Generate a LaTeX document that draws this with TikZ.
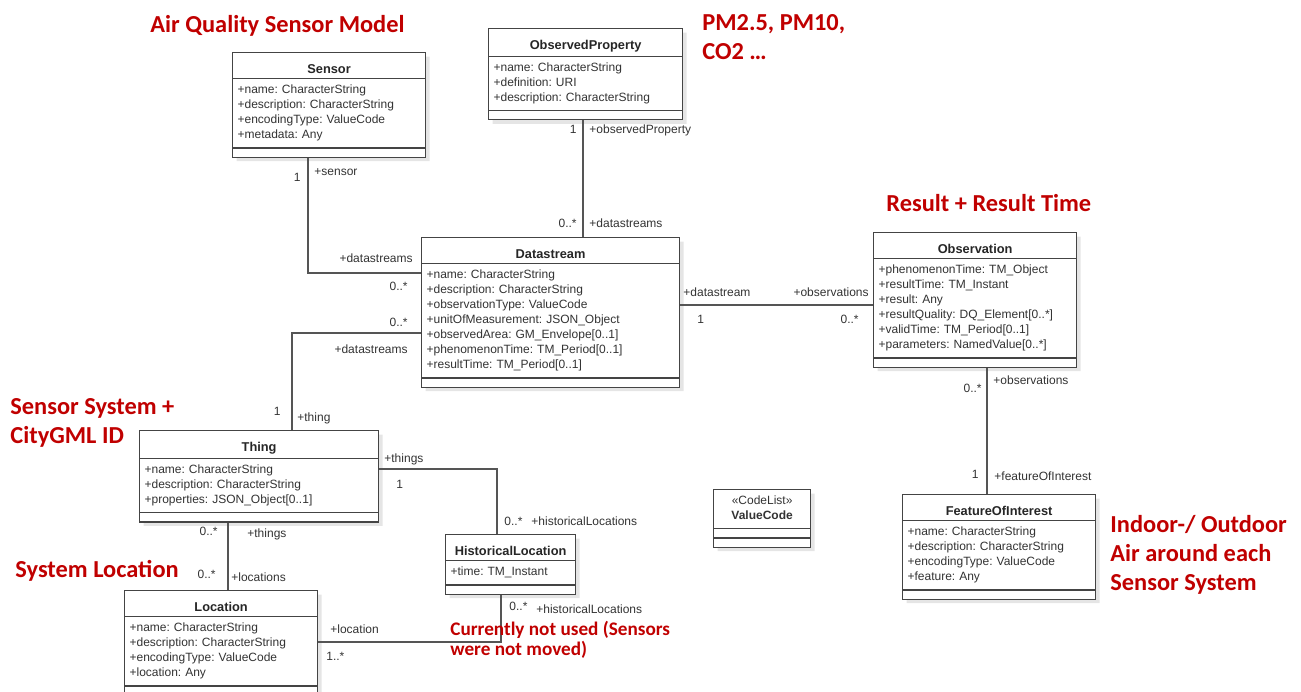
\documentclass[tikz,border=0pt]{standalone}
\usepackage{fontspec}
\setmainfont{Liberation Sans}
\newfontfamily\notefont{Carlito}
\usetikzlibrary{shapes.multipart,shadows}

\definecolor{notered}{HTML}{C00000}
\definecolor{umlline}{HTML}{555555}
\definecolor{umltext}{HTML}{333333}

% centred class name in the top compartment
\newcommand{\umlname}[1]{{\centering\rule[-0.5pt]{0pt}{8.5pt}\fontsize{6.4}{7.5}\selectfont\bfseries\color{black!85}#1\par}}

\begin{document}
\begin{tikzpicture}[x=0.5pt, y=-0.5pt,
umlclass/.style={rectangle split, rectangle split parts=3, draw=umlline!80!black, line width=0.6pt,
  fill=white, text width=#1, inner xsep=2.5pt, inner ysep=2pt, anchor=north west,
  font=\fontsize{6}{7.5}\selectfont\frenchspacing, text=umltext,
  drop shadow={shadow xshift=2pt, shadow yshift=-2pt, fill=black!10, opacity=1}},
assoc/.style={draw=umlline, line width=0.6pt},
role/.style={font=\fontsize{6}{7.5}\selectfont, text=umltext, inner sep=0pt, text height=4.3pt, text depth=1.2pt},
note/.style={font=\notefont\bfseries\fontsize{12.2}{14.5}\selectfont, text=notered, inner sep=0pt, align=left, anchor=base west}
]
\useasboundingbox (0,0) rectangle (1301,691);

% ---------- CLASSES ----------
\node[umlclass=91.5pt] (sensor) at (232,52) {\umlname{Sensor}
  \nodepart{two}\strut+name: CharacterString\\
  \strut+description: CharacterString\\
  \strut+encodingType: ValueCode\\
  \strut+metadata: Any
  \nodepart{three}};

\node[umlclass=92pt] (prop) at (488,28) {\umlname{ObservedProperty}
  \nodepart{two}\strut+name: CharacterString\\
  \strut+definition: URI\\
  \strut+description: CharacterString
  \nodepart{three}};

\node[umlclass=124pt] (ds) at (421,237) {\umlname{Datastream}
  \nodepart{two}\strut+name: CharacterString\\
  \strut+description: CharacterString\\
  \strut+observationType: ValueCode\\
  \strut+unitOfMeasurement: JSON\_Object\\
  \strut+observedArea: GM\_Envelope[0..1]\\
  \strut+phenomenonTime: TM\_Period[0..1]\\
  \strut+resultTime: TM\_Period[0..1]
  \nodepart{three}};

\node[umlclass=96.5pt] (obs) at (873,232) {\umlname{Observation}
  \nodepart{two}\strut+phenomenonTime: TM\_Object\\
  \strut+resultTime: TM\_Instant\\
  \strut+result: Any\\
  \strut+resultQuality: DQ\_Element[0..*]\\
  \strut+validTime: TM\_Period[0..1]\\
  \strut+parameters: NamedValue[0..*]
  \nodepart{three}};

\node[umlclass=91.5pt] (foi) at (902,494) {\umlname{FeatureOfInterest}
  \nodepart{two}\strut+name: CharacterString\\
  \strut+description: CharacterString\\
  \strut+encodingType: ValueCode\\
  \strut+feature: Any
  \nodepart{three}};

\node[umlclass=114.5pt] (thing) at (139,430) {\umlname{Thing}
  \nodepart{two}\strut+name: CharacterString\\
  \strut+description: CharacterString\\
  \strut+properties: JSON\_Object[0..1]
  \nodepart{three}};

\node[umlclass=60pt] (hist) at (445,534) {\umlname{HistoricalLocation}
  \nodepart{two}\strut+time: TM\_Instant
  \nodepart{three}};

\node[umlclass=91.5pt] (loc) at (124,590) {\umlname{Location}
  \nodepart{two}\strut+name: CharacterString\\
  \strut+description: CharacterString\\
  \strut+encodingType: ValueCode\\
  \strut+location: Any
  \nodepart{three}};

\node[umlclass=43.5pt] (valuecode) at (713,489) {{\centering\strut«CodeList»\\\strut\textbf{ValueCode}\par}
  \nodepart{two}\nodepart{three}};

% ---------- ASSOCIATIONS ----------
% Sensor - Datastream
\coordinate (sensorbend) at (308,273);
\draw[assoc] (sensor.south -| sensorbend) |- (ds.west |- sensorbend);
\node[role, anchor=east] (msensor) at (301,178) {1};
\node[role, anchor=west] (rsensor) at (314,172) {+sensor};
\node[role, anchor=east] (rsensords) at (413,259) {+datastreams};
\node[role, anchor=east] (msensords) at (408,287) {0..*};

% ObservedProperty - Datastream
\coordinate (propx) at (583,180);
\draw[assoc] (prop.south -| propx) -- (ds.north -| propx);
\node[role, anchor=east] (mprop) at (577,130) {1};
\node[role, anchor=west] (rprop) at (589,130) {+observedProperty};
\node[role, anchor=east] (mpropds) at (577,224) {0..*};
\node[role, anchor=west] (rpropds) at (589,224) {+datastreams};

% Datastream - Thing
\coordinate (thingbend) at (292,333);
\draw[assoc] (ds.west |- thingbend) -| (thing.north -| thingbend);
\node[role, anchor=east] (mthingds) at (408,323) {0..*};
\node[role, anchor=east] (rthingds) at (408,350) {+datastreams};
\node[role, anchor=east] (mthing) at (281,412) {1};
\node[role, anchor=west] (rthing) at (297,418) {+thing};

% Datastream - Observation
\coordinate (obsy) at (780,305);
\draw[assoc] (ds.east |- obsy) -- (obs.west |- obsy);
\node[role, anchor=west] (rds) at (683,293) {+datastream};
\node[role, anchor=west] (mds) at (697,320) {1};
\node[role, anchor=east] (robs) at (869,293) {+observations};
\node[role, anchor=east] (mobs) at (859,320) {0..*};

% Observation - FeatureOfInterest
\coordinate (foix) at (987,430);
\draw[assoc] (obs.south -| foix) -- (foi.north -| foix);
\node[role, anchor=east] (mobsfoi) at (982,389) {0..*};
\node[role, anchor=west] (robsfoi) at (993,381) {+observations};
\node[role, anchor=east] (mfoi) at (979,475) {1};
\node[role, anchor=west] (rfoi) at (994,477) {+featureOfInterest};

% Thing - HistoricalLocation
\coordinate (histbend) at (497,469);
\draw[assoc] (thing.east |- histbend) -| (hist.north -| histbend);
\node[role, anchor=west] (rthinghist) at (384,459) {+things};
\node[role, anchor=west] (mthinghist) at (396,485) {1};
\node[role, anchor=west] (mhist) at (504,522) {0..*};
\node[role, anchor=west] (rhist) at (531,522) {+historicalLocations};

% HistoricalLocation - Location
\coordinate (locbend) at (501,642);
\draw[assoc] (hist.south -| locbend) |- (loc.east |- locbend);
\node[role, anchor=west] (mhistloc) at (509,607) {0..*};
\node[role, anchor=west] (rhistloc) at (536,610) {+historicalLocations};
\node[role, anchor=west] (rlochist) at (330,630) {+location};
\node[role, anchor=west] (mlochist) at (326,657) {1..*};

% Thing - Location
\coordinate (locx) at (228,550);
\draw[assoc] (thing.south -| locx) -- (loc.north -| locx);
\node[role, anchor=east] (mthingloc) at (218,532) {0..*};
\node[role, anchor=west] (rthingloc) at (247,534) {+things};
\node[role, anchor=east] (mloc) at (216,575) {0..*};
\node[role, anchor=west] (rloc) at (231,578) {+locations};

% ---------- NOTES ----------
% multi-line notes are placed by the baseline of their last line
\node[note] (notemodel) at (150,32) {Air Quality Sensor Model};
\node[note] (notepm) at (702,59) {PM2.5, PM10,\\CO2 …};
\node[note] (noteresult) at (886,211) {Result + Result Time};
\node[note] (notething) at (10,443) {Sensor System +\\CityGML ID};
\node[note] (noteloc) at (15,577) {System Location};
\node[note, font=\notefont\bfseries\fontsize{9.6}{10}\selectfont] (notehist) at (450,655) {Currently not used (Sensors\\were not moved)};
\node[note] (notefoi) at (1110,590) {Indoor-/ Outdoor\\Air around each\\Sensor System};

\end{tikzpicture}
\end{document}
